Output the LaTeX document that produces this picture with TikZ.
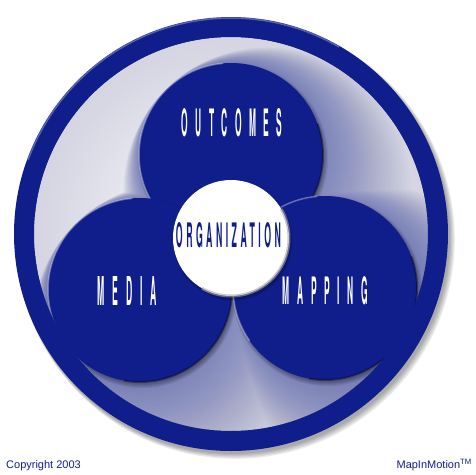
\documentclass[tikz,border=0pt]{standalone}
\usepackage{fontspec}
\usepackage{graphicx}
\setmainfont{Liberation Sans}
\newfontfamily\petalfont[LetterSpace=90]{TeX Gyre Heros}
\newfontfamily\hubfont[LetterSpace=40]{TeX Gyre Heros}

\definecolor{mimblue}{RGB}{16,30,140}
\definecolor{rimgray}{RGB}{212,212,226}

\newcommand{\petalword}[3]{\resizebox{#1pt}{#2pt}{\petalfont\bfseries #3}}
\newcommand{\hubword}[3]{\resizebox{#1pt}{#2pt}{\hubfont\bfseries #3}}

\tikzset{
	petal/.style={shape=circle,fill=mimblue,minimum size=184pt,inner sep=0pt,outer sep=0pt},
	hub/.style={shape=circle,fill=white,minimum size=116pt,inner sep=0pt,outer sep=0pt},
	word/.style={text=white,inner sep=0pt},
	footer/.style={text=mimblue,inner sep=0pt,font=\fontsize{11}{13}\selectfont},
}

\begin{document}
\begin{tikzpicture}[x=1pt,y=-1pt]
	\useasboundingbox (0,0) rectangle (475,475);
	\coordinate (mid) at (231,234);
	
	% shadow of the ring
	\foreach \k in {0,...,4}
		\draw[black,opacity=0.08,line width=20pt+1.2*\k pt] (233+0.6*\k,237+0.6*\k) circle[radius=207pt];
	
	% inner disk
	\fill[inner color=white,outer color=rimgray] (mid) circle[radius=197pt];
	
	% blue glow behind the petals
	\begin{scope}
		\clip (mid) circle[radius=197pt];
		\foreach \r in {1,2.5,...,52}
			\fill[mimblue,opacity=0.016]
				(231+0.7*\r,155+0.7*\r) circle[radius=92pt+\r pt]
				(140+0.7*\r,290+0.7*\r) circle[radius=92pt+\r pt]
				(325+0.7*\r,288+0.7*\r) circle[radius=92pt+\r pt];
	\end{scope}
	
	% the three petals
	\foreach \p/\cx/\cy in {outcomes/231/155,media/140/290,mapping/325/288}{
		\foreach \k in {1,...,5}
			\fill[black,opacity=0.07] (\cx+2,\cy+3) circle[radius=90pt+\k pt];
		\node[petal] (\p) at (\cx,\cy) {};
		\draw[white,opacity=0.35,line width=1.5pt] (\p.95) arc[start angle=95,end angle=215,radius=92pt];
		\draw[black,opacity=0.35,line width=2pt] (\p.-100) arc[start angle=-100,end angle=20,radius=92pt];
	}
	
	% the hub
	\foreach \k in {1,...,4}
		\fill[black,opacity=0.08] (233,241) circle[radius=56pt+\k pt];
	\node[hub] (hub) at (231,238) {};
	\draw[gray!70,opacity=0.6,line width=3pt] (hub.-120) arc[start angle=-120,end angle=30,radius=58pt];
	
	% the ring
	\draw[mimblue,line width=20pt] (mid) circle[radius=207pt];
	\draw[white,opacity=0.3,line width=1.5pt] (mid) ++(60:216pt) arc[start angle=60,end angle=160,radius=216pt];
	
	% texts
	\node[word] (outcomestext) at (232,123) {\petalword{101}{28}{OUTCOMES}};
	\node[word] (mediatext) at (127.5,290.5) {\petalword{59}{29}{MEDIA}};
	\node[word] (mappingtext) at (325.5,291) {\petalword{85}{28}{MAPPING}};
	\node[word,text=mimblue] (hubtext) at (228.5,235.5) {\hubword{105}{25}{ORGANIZATION}};
	
	\node[footer,anchor=base west] (copyright) at (6,468) {Copyright 2003};
	\node[footer,anchor=base east] (brand) at (472,468) {MapInMotion\textsuperscript{TM}};
\end{tikzpicture}
\end{document}
